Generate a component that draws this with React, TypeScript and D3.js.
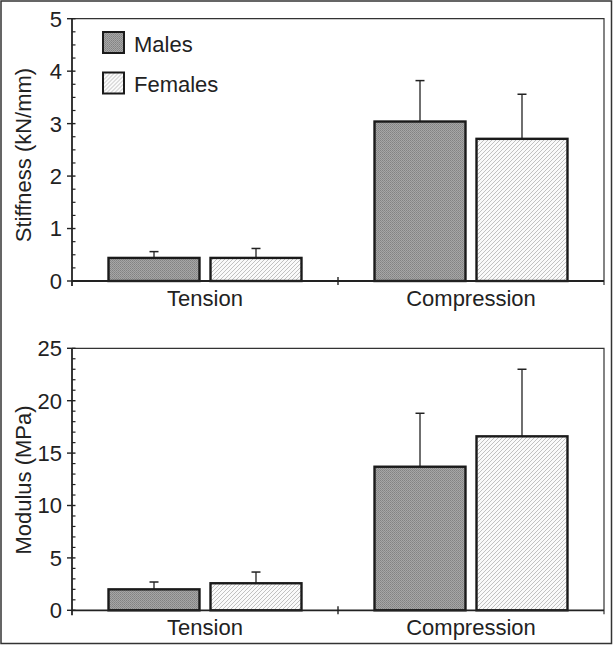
import { useEffect, useRef } from 'react'
import * as d3 from 'd3'

const categories = ['Tension', 'Compression']
const groups = ['Males', 'Females']

const stiffnessMales = [0.44, 3.04]
const stiffnessMalesErr = [0.12, 0.78]
const stiffnessFemales = [0.44, 2.71]
const stiffnessFemalesErr = [0.18, 0.85]

const modulusMales = [2.0, 13.7]
const modulusMalesErr = [0.7, 5.1]
const modulusFemales = [2.58, 16.6]
const modulusFemalesErr = [1.07, 6.4]

const W = 613
const H = 645
const FONT = '"Liberation Sans", Arial, sans-serif'

interface PanelSpec {
    top: number
    bottom: number
    max: number
    major: number
    minor: number
    title: string
    titleY: number
    males: number[]
    malesErr: number[]
    females: number[]
    femalesErr: number[]
    legend: boolean
}

export default function App() {
    const svgRef = useRef<SVGSVGElement>(null)

    useEffect(() => {
        if (!svgRef.current) return
        const svg = d3.select(svgRef.current)
        svg.selectAll('*').remove()

        // patterns for the two fills
        const defs = svg.append('defs')
        const check = defs.append('pattern')
            .attr('id', 'pat-males')
            .attr('patternUnits', 'userSpaceOnUse')
            .attr('width', 2).attr('height', 2)
        check.append('rect').attr('width', 2).attr('height', 2).attr('fill', '#a6a6a6')
        check.append('rect').attr('width', 1).attr('height', 1).attr('fill', '#828282')
        check.append('rect').attr('x', 1).attr('y', 1).attr('width', 1).attr('height', 1).attr('fill', '#8c8c8c')

        const hatch = defs.append('pattern')
            .attr('id', 'pat-females')
            .attr('patternUnits', 'userSpaceOnUse')
            .attr('width', 4).attr('height', 4)
        hatch.append('rect').attr('width', 4).attr('height', 4).attr('fill', '#fafafa')
        hatch.append('path')
            .attr('d', 'M-1,1 l2,-2 M0,4 l4,-4 M3,5 l2,-2')
            .attr('stroke', '#b2b2b2')
            .attr('stroke-width', 0.8)

        // outer border
        svg.append('rect')
            .attr('x', 1).attr('y', 1)
            .attr('width', W - 2.5).attr('height', H - 2.5)
            .attr('fill', 'none')
            .attr('stroke', '#333')
            .attr('stroke-width', 1.5)

        const left = 72
        const right = 604

        const x = d3.scaleBand<string>()
            .domain(categories)
            .range([left, right])

        const xg = d3.scaleBand<string>()
            .domain(groups)
            .range([0, x.bandwidth()])
            .paddingInner(0.108)
            .paddingOuter(0.358)

        const fills: Record<string, string> = {
            Males: 'url(#pat-males)',
            Females: 'url(#pat-females)'
        }

        const panels: PanelSpec[] = [
            {
                top: 18.7, bottom: 281, max: 5, major: 1, minor: 0.25,
                title: 'Stiffness (kN/mm)', titleY: 155,
                males: stiffnessMales, malesErr: stiffnessMalesErr,
                females: stiffnessFemales, femalesErr: stiffnessFemalesErr,
                legend: true
            },
            {
                top: 348.3, bottom: 610.3, max: 25, major: 5, minor: 1,
                title: 'Modulus (MPa)', titleY: 480,
                males: modulusMales, malesErr: modulusMalesErr,
                females: modulusFemales, femalesErr: modulusFemalesErr,
                legend: false
            }
        ]

        panels.forEach(p => {
            const y = d3.scaleLinear().domain([0, p.max]).range([p.bottom, p.top])
            const g = svg.append('g')

            // frame (top and right)
            g.append('path')
                .attr('d', `M${left},${p.top}H${right}V${p.bottom + 4}`)
                .attr('fill', 'none')
                .attr('stroke', '#333')
                .attr('stroke-width', 1.2)

            // minor ticks (inside)
            g.selectAll('.minor')
                .data(d3.range(0, p.max, p.minor).filter(v => Math.abs(v / p.major - Math.round(v / p.major)) > 1e-6))
                .enter()
                .append('line')
                .attr('x1', left).attr('x2', left + 3.5)
                .attr('y1', d => y(d)).attr('y2', d => y(d))
                .attr('stroke', '#222').attr('stroke-width', 1.2)

            // major ticks (crossing)
            const majors = d3.range(0, p.max + p.major / 2, p.major)
            g.selectAll('.major')
                .data(majors)
                .enter()
                .append('line')
                .attr('x1', left - 5).attr('x2', left + 3.5)
                .attr('y1', d => y(d)).attr('y2', d => y(d))
                .attr('stroke', '#222').attr('stroke-width', 1.4)

            g.selectAll('.ylab')
                .data(majors)
                .enter()
                .append('text')
                .attr('x', left - 10)
                .attr('y', d => y(d))
                .attr('dy', '0.36em')
                .attr('text-anchor', 'end')
                .style('font-family', FONT)
                .style('font-size', '22px')
                .style('fill', '#222')
                .text(d => d)

            // y axis line
            g.append('line')
                .attr('x1', left).attr('x2', left)
                .attr('y1', p.top).attr('y2', p.bottom + 5)
                .attr('stroke', '#222').attr('stroke-width', 1.8)

            // axis title
            g.append('text')
                .attr('transform', `translate(31,${p.titleY}) rotate(-90)`)
                .attr('text-anchor', 'middle')
                .style('font-family', FONT)
                .style('font-size', '22px')
                .style('fill', '#222')
                .text(p.title)

            // bars
            const rows = categories.flatMap((c, i) => [
                { cat: c, grp: 'Males', v: p.males[i], e: p.malesErr[i] },
                { cat: c, grp: 'Females', v: p.females[i], e: p.femalesErr[i] }
            ])

            rows.forEach(r => {
                const bx = (x(r.cat) ?? 0) + (xg(r.grp) ?? 0)
                const cx = bx + xg.bandwidth() / 2
                g.append('line')
                    .attr('x1', cx).attr('x2', cx)
                    .attr('y1', y(r.v)).attr('y2', y(r.v + r.e))
                    .attr('stroke', '#222').attr('stroke-width', 1.3)
                g.append('line')
                    .attr('x1', cx - 4.5).attr('x2', cx + 4.5)
                    .attr('y1', y(r.v + r.e)).attr('y2', y(r.v + r.e))
                    .attr('stroke', '#222').attr('stroke-width', 1.5)
                g.append('rect')
                    .attr('x', bx)
                    .attr('y', y(r.v))
                    .attr('width', xg.bandwidth())
                    .attr('height', y(0) - y(r.v))
                    .attr('fill', fills[r.grp])
                    .attr('stroke', '#1a1a1a')
                    .attr('stroke-width', 2.4)
            })

            // x axis line with boundary ticks
            g.append('line')
                .attr('x1', left).attr('x2', right)
                .attr('y1', p.bottom).attr('y2', p.bottom)
                .attr('stroke', '#222').attr('stroke-width', 1.8)
            g.append('line')
                .attr('x1', left + x.bandwidth()).attr('x2', left + x.bandwidth())
                .attr('y1', p.bottom - 4).attr('y2', p.bottom + 4)
                .attr('stroke', '#222').attr('stroke-width', 1.4)

            g.selectAll('.xlab')
                .data(categories)
                .enter()
                .append('text')
                .attr('x', d => (x(d) ?? 0) + x.bandwidth() / 2)
                .attr('y', p.bottom + 25)
                .attr('text-anchor', 'middle')
                .style('font-family', FONT)
                .style('font-size', '22px')
                .style('fill', '#222')
                .text(d => d)

            if (p.legend) {
                const legend = g.append('g').attr('transform', 'translate(103, 32)')
                const items = legend.selectAll('.legend-item')
                    .data(groups)
                    .enter()
                    .append('g')
                    .attr('transform', (d, i) => `translate(0, ${i * 40.5})`)
                items.append('rect')
                    .attr('width', 21)
                    .attr('height', 21)
                    .attr('fill', d => fills[d])
                    .attr('stroke', '#1a1a1a')
                    .attr('stroke-width', 2)
                items.append('text')
                    .attr('x', 31)
                    .attr('y', 19.5)
                    .style('font-family', FONT)
                    .style('font-size', '22px')
                    .style('fill', '#222')
                    .text(d => d)
            }
        })
    }, [])

    return (
        <svg
            ref={svgRef}
            width={W}
            height={H}
            style={{ position: 'absolute', left: 0, top: 0, background: '#fff' }}
        ></svg>
    )
}
